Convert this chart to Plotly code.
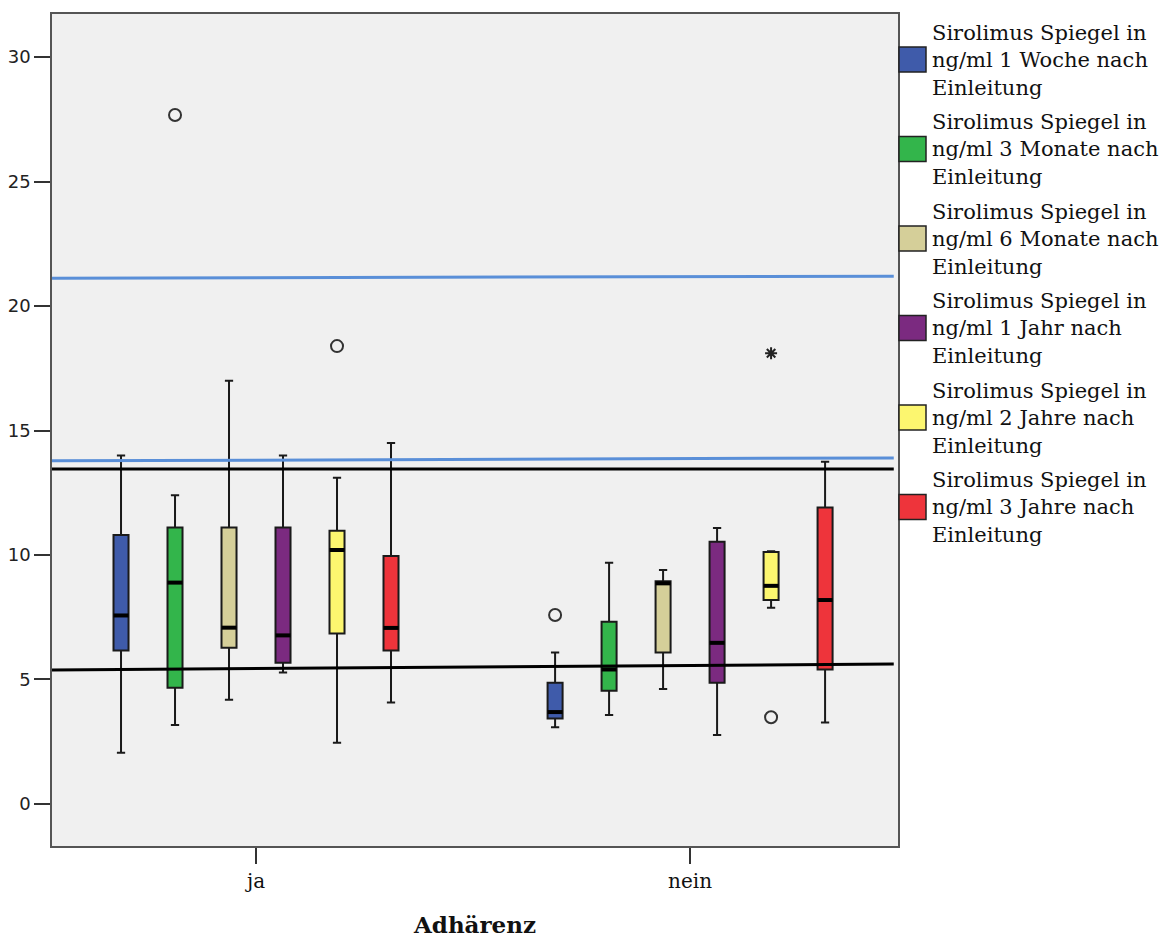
import plotly.graph_objects as go

# Groups on the x axis and the six measurement times
groups = ["ja", "nein"]
series_names = [
    "Sirolimus Spiegel in<br>ng/ml 1 Woche nach<br>Einleitung",
    "Sirolimus Spiegel in<br>ng/ml 3 Monate nach<br>Einleitung",
    "Sirolimus Spiegel in<br>ng/ml 6 Monate nach<br>Einleitung",
    "Sirolimus Spiegel in<br>ng/ml 1 Jahr nach<br>Einleitung",
    "Sirolimus Spiegel in<br>ng/ml 2 Jahre nach<br>Einleitung",
    "Sirolimus Spiegel in<br>ng/ml 3 Jahre nach<br>Einleitung",
]
colors = ["#3F5BAA", "#33B54B", "#D5CF99", "#7B2A80", "#FCF66F", "#EE343B"]

# Box statistics per series: [ja, nein]
upper_whisker = [[14.0, 6.08], [12.4, 9.69], [17.0, 9.40], [14.0, 11.08], [13.1, 10.15], [14.5, 13.74]]
q3 = [[10.8, 4.87], [11.1, 7.32], [11.1, 8.94], [11.1, 10.53], [10.97, 10.12], [9.96, 11.91]]
median = [[7.57, 3.69], [8.89, 5.40], [7.08, 8.86], [6.77, 6.47], [10.2, 8.76], [7.07, 8.19]]
q1 = [[6.16, 3.43], [4.67, 4.55], [6.27, 6.08], [5.67, 4.87], [6.85, 8.19], [6.16, 5.40]]
lower_whisker = [[2.06, 3.08], [3.17, 3.57], [4.18, 4.62], [5.28, 2.77], [2.46, 7.88], [4.07, 3.27]]

# Outliers (series index, group index, value) and extreme values
outliers = [(1, 0, 27.67), (4, 0, 18.39), (0, 1, 7.59), (4, 1, 3.48)]
extremes = [(4, 1, 18.1)]

# Reference lines: value at left and right end
ref_blue = [(21.12, 21.2), (13.78, 13.9)]
ref_black = [(13.45, 13.45), (5.38, 5.62)]

SLOT = 0.1244      # distance between neighbouring boxes within a group
BOX_W = 0.0346     # box width in axis units


def xpos(s, g):
    return g + (s - 2.5) * SLOT


fig = go.Figure()

for s, name in enumerate(series_names):
    xs = [xpos(s, g) for g in range(len(groups))]
    fig.add_trace(go.Box(
        x=xs,
        q1=q1[s], median=median[s], q3=q3[s],
        lowerfence=lower_whisker[s], upperfence=upper_whisker[s],
        width=BOX_W, whiskerwidth=0.55,
        fillcolor=colors[s],
        line=dict(color="#1a1a1a", width=2),
        boxpoints=False, hoverinfo="skip",
        showlegend=False, name=name.replace("<br>", " "),
    ))

# Thick median bars
mx, my = [], []
for s in range(len(series_names)):
    for g in range(len(groups)):
        c = xpos(s, g)
        mx += [c - BOX_W / 2, c + BOX_W / 2, None]
        my += [median[s][g], median[s][g], None]
fig.add_trace(go.Scatter(x=mx, y=my, mode="lines", line=dict(color="black", width=4),
                         showlegend=False, hoverinfo="skip"))

# Outlier circles
fig.add_trace(go.Scatter(
    x=[xpos(s, g) for s, g, v in outliers], y=[v for s, g, v in outliers],
    mode="markers",
    marker=dict(symbol="circle-open", size=12, color="#333333", line=dict(width=2)),
    showlegend=False, hoverinfo="skip"))

# Extreme values
fig.add_trace(go.Scatter(
    x=[xpos(s, g) for s, g, v in extremes], y=[v for s, g, v in extremes],
    mode="markers",
    marker=dict(symbol="asterisk-open", size=10, color="#222222", line=dict(width=2, color="#222222")),
    showlegend=False, hoverinfo="skip"))

# Horizontal reference lines across the plot
for (y0, y1), col in [(v, "#5A8FD8") for v in ref_blue] + [(v, "black") for v in ref_black]:
    fig.add_shape(type="line", xref="x domain", yref="y", x0=0, x1=0.995, y0=y0, y1=y1,
                  line=dict(color=col, width=3), layer="above")

# Legend drawn beside the plot
PLOT_T, PLOT_B, PLOT_L, PLOT_R = 14, 846, 52, 898


def px_x(p):
    return (p - PLOT_L) / (PLOT_R - PLOT_L)


def px_y(p):
    return (PLOT_B - p) / (PLOT_B - PLOT_T)


for i, (name, col) in enumerate(zip(series_names, colors)):
    top = 47 + 89.5 * i
    fig.add_shape(type="rect", xref="paper", yref="paper",
                  x0=px_x(899), x1=px_x(926), y0=px_y(top + 25), y1=px_y(top),
                  fillcolor=col, line=dict(color="#222222", width=1.5))
    fig.add_annotation(xref="paper", yref="paper", x=px_x(930), y=px_y(top + 13),
                       xanchor="left", yanchor="middle", align="left", showarrow=False,
                       text=name, font=dict(family="DejaVu Serif", size=21, color="#111111"))

fig.update_layout(
    width=1176, height=938,
    margin=dict(l=PLOT_L, r=1176 - PLOT_R, t=PLOT_T, b=938 - PLOT_B),
    paper_bgcolor="white", plot_bgcolor="#F0F0F0",
    showlegend=False,
    xaxis=dict(
        range=[-0.470, 1.479], tickvals=[0, 1], ticktext=groups,
        showgrid=False, zeroline=False, showline=True, mirror=True,
        linecolor="#555555", linewidth=1.5, automargin=False,
        ticks="outside", ticklen=16, tickwidth=2, tickcolor="#333333",
        tickfont=dict(family="DejaVu Serif", size=20, color="#111111"),
        title=dict(text="<b>Adhärenz</b>", standoff=27,
                   font=dict(family="DejaVu Serif", size=23, color="#111111")),
    ),
    yaxis=dict(
        range=[-1.69, 31.73], tickvals=[0, 5, 10, 15, 20, 25, 30],
        showgrid=False, zeroline=False, showline=True, mirror=True,
        linecolor="#555555", linewidth=1.5, automargin=False,
        ticks="outside", ticklen=16, tickwidth=1.5, tickcolor="#333333",
        tickfont=dict(family="DejaVu Sans", size=18, color="#222222"),
    ),
)

fig.write_html("out.html")
